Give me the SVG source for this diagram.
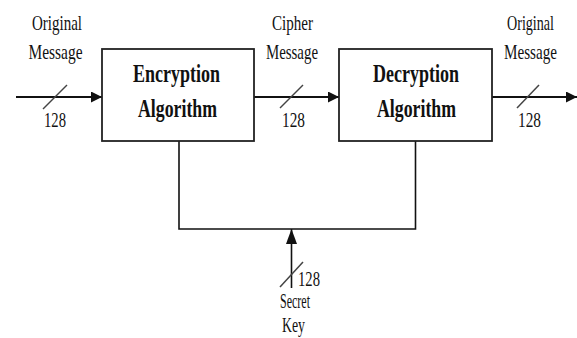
<svg xmlns="http://www.w3.org/2000/svg" width="577" height="338" viewBox="0 0 577 338">
<defs>
<style>
.box{fill:#fff;stroke:#222;stroke-width:1.8}
.ln{fill:none;stroke:#111;stroke-width:1.6}
.main{fill:none;stroke:#111;stroke-width:2.2}
.sl{stroke:#444;stroke-width:1.5}
.t{font-family:"Liberation Serif","Times New Roman",serif;font-size:21px;fill:#111;text-anchor:middle}
.b{font-family:"Liberation Serif","Times New Roman",serif;font-size:25px;font-weight:bold;fill:#111;text-anchor:middle}
</style>
<marker id="ah" markerUnits="userSpaceOnUse" markerWidth="11" markerHeight="11" refX="11" refY="5.5" orient="auto" viewBox="0 0 11 11">
<path d="M0,0 L11,5.5 L0,11 z" fill="#111"/>
</marker>
<marker id="ahv" markerUnits="userSpaceOnUse" markerWidth="15" markerHeight="11" refX="15" refY="5.5" orient="auto" viewBox="0 0 15 11">
<path d="M0,0 L15,5.5 L0,11 z" fill="#111"/>
</marker>
</defs>
<rect width="577" height="338" fill="#fff"/>
<g id="connectors">
<line class="main" x1="16" y1="97" x2="102" y2="97" marker-end="url(#ah)"/>
<line class="main" x1="254" y1="97" x2="339" y2="97" marker-end="url(#ah)"/>
<line class="main" x1="492" y1="97" x2="577" y2="97" marker-end="url(#ah)"/>
<polyline class="ln" points="179,141 179,229 415.5,229 415.5,141"/>
<line class="ln" x1="291.5" y1="288" x2="291.5" y2="229" marker-end="url(#ahv)"/>
<line class="sl" x1="43" y1="109" x2="67" y2="85"/>
<line class="sl" x1="280" y1="108" x2="303" y2="85"/>
<line class="sl" x1="517" y1="108" x2="539" y2="85"/>
<line class="sl" x1="280" y1="287" x2="303" y2="262"/>
<text class="t" x="57" y="30" textLength="50" lengthAdjust="spacingAndGlyphs">Original</text>
<text class="t" x="55.5" y="59" textLength="54" lengthAdjust="spacingAndGlyphs">Message</text>
<text class="t" x="55" y="127" textLength="22" lengthAdjust="spacingAndGlyphs">128</text>
<text class="t" x="292.5" y="30" textLength="41" lengthAdjust="spacingAndGlyphs">Cipher</text>
<text class="t" x="292" y="59" textLength="52" lengthAdjust="spacingAndGlyphs">Message</text>
<text class="t" x="293.5" y="127" textLength="23" lengthAdjust="spacingAndGlyphs">128</text>
<text class="t" x="530.5" y="30" textLength="47" lengthAdjust="spacingAndGlyphs">Original</text>
<text class="t" x="530.5" y="59" textLength="53" lengthAdjust="spacingAndGlyphs">Message</text>
<text class="t" x="529.5" y="127" textLength="23" lengthAdjust="spacingAndGlyphs">128</text>
<text class="t" x="309" y="286" textLength="22" lengthAdjust="spacingAndGlyphs">128</text>
<text class="t" x="295" y="308" textLength="30" lengthAdjust="spacingAndGlyphs">Secret</text>
<text class="t" x="293.5" y="332" textLength="23" lengthAdjust="spacingAndGlyphs">Key</text>
</g>
<g id="encryption">
<rect class="box" x="102" y="49" width="152" height="92"/>
<text class="b" x="176.5" y="82" textLength="87" lengthAdjust="spacingAndGlyphs">Encryption</text>
<text class="b" x="177.5" y="117" textLength="79" lengthAdjust="spacingAndGlyphs">Algorithm</text>
</g>
<g id="decryption">
<rect class="box" x="339" y="49" width="153" height="92"/>
<text class="b" x="416" y="82" textLength="86" lengthAdjust="spacingAndGlyphs">Decryption</text>
<text class="b" x="416.5" y="117" textLength="79" lengthAdjust="spacingAndGlyphs">Algorithm</text>
</g>
</svg>
